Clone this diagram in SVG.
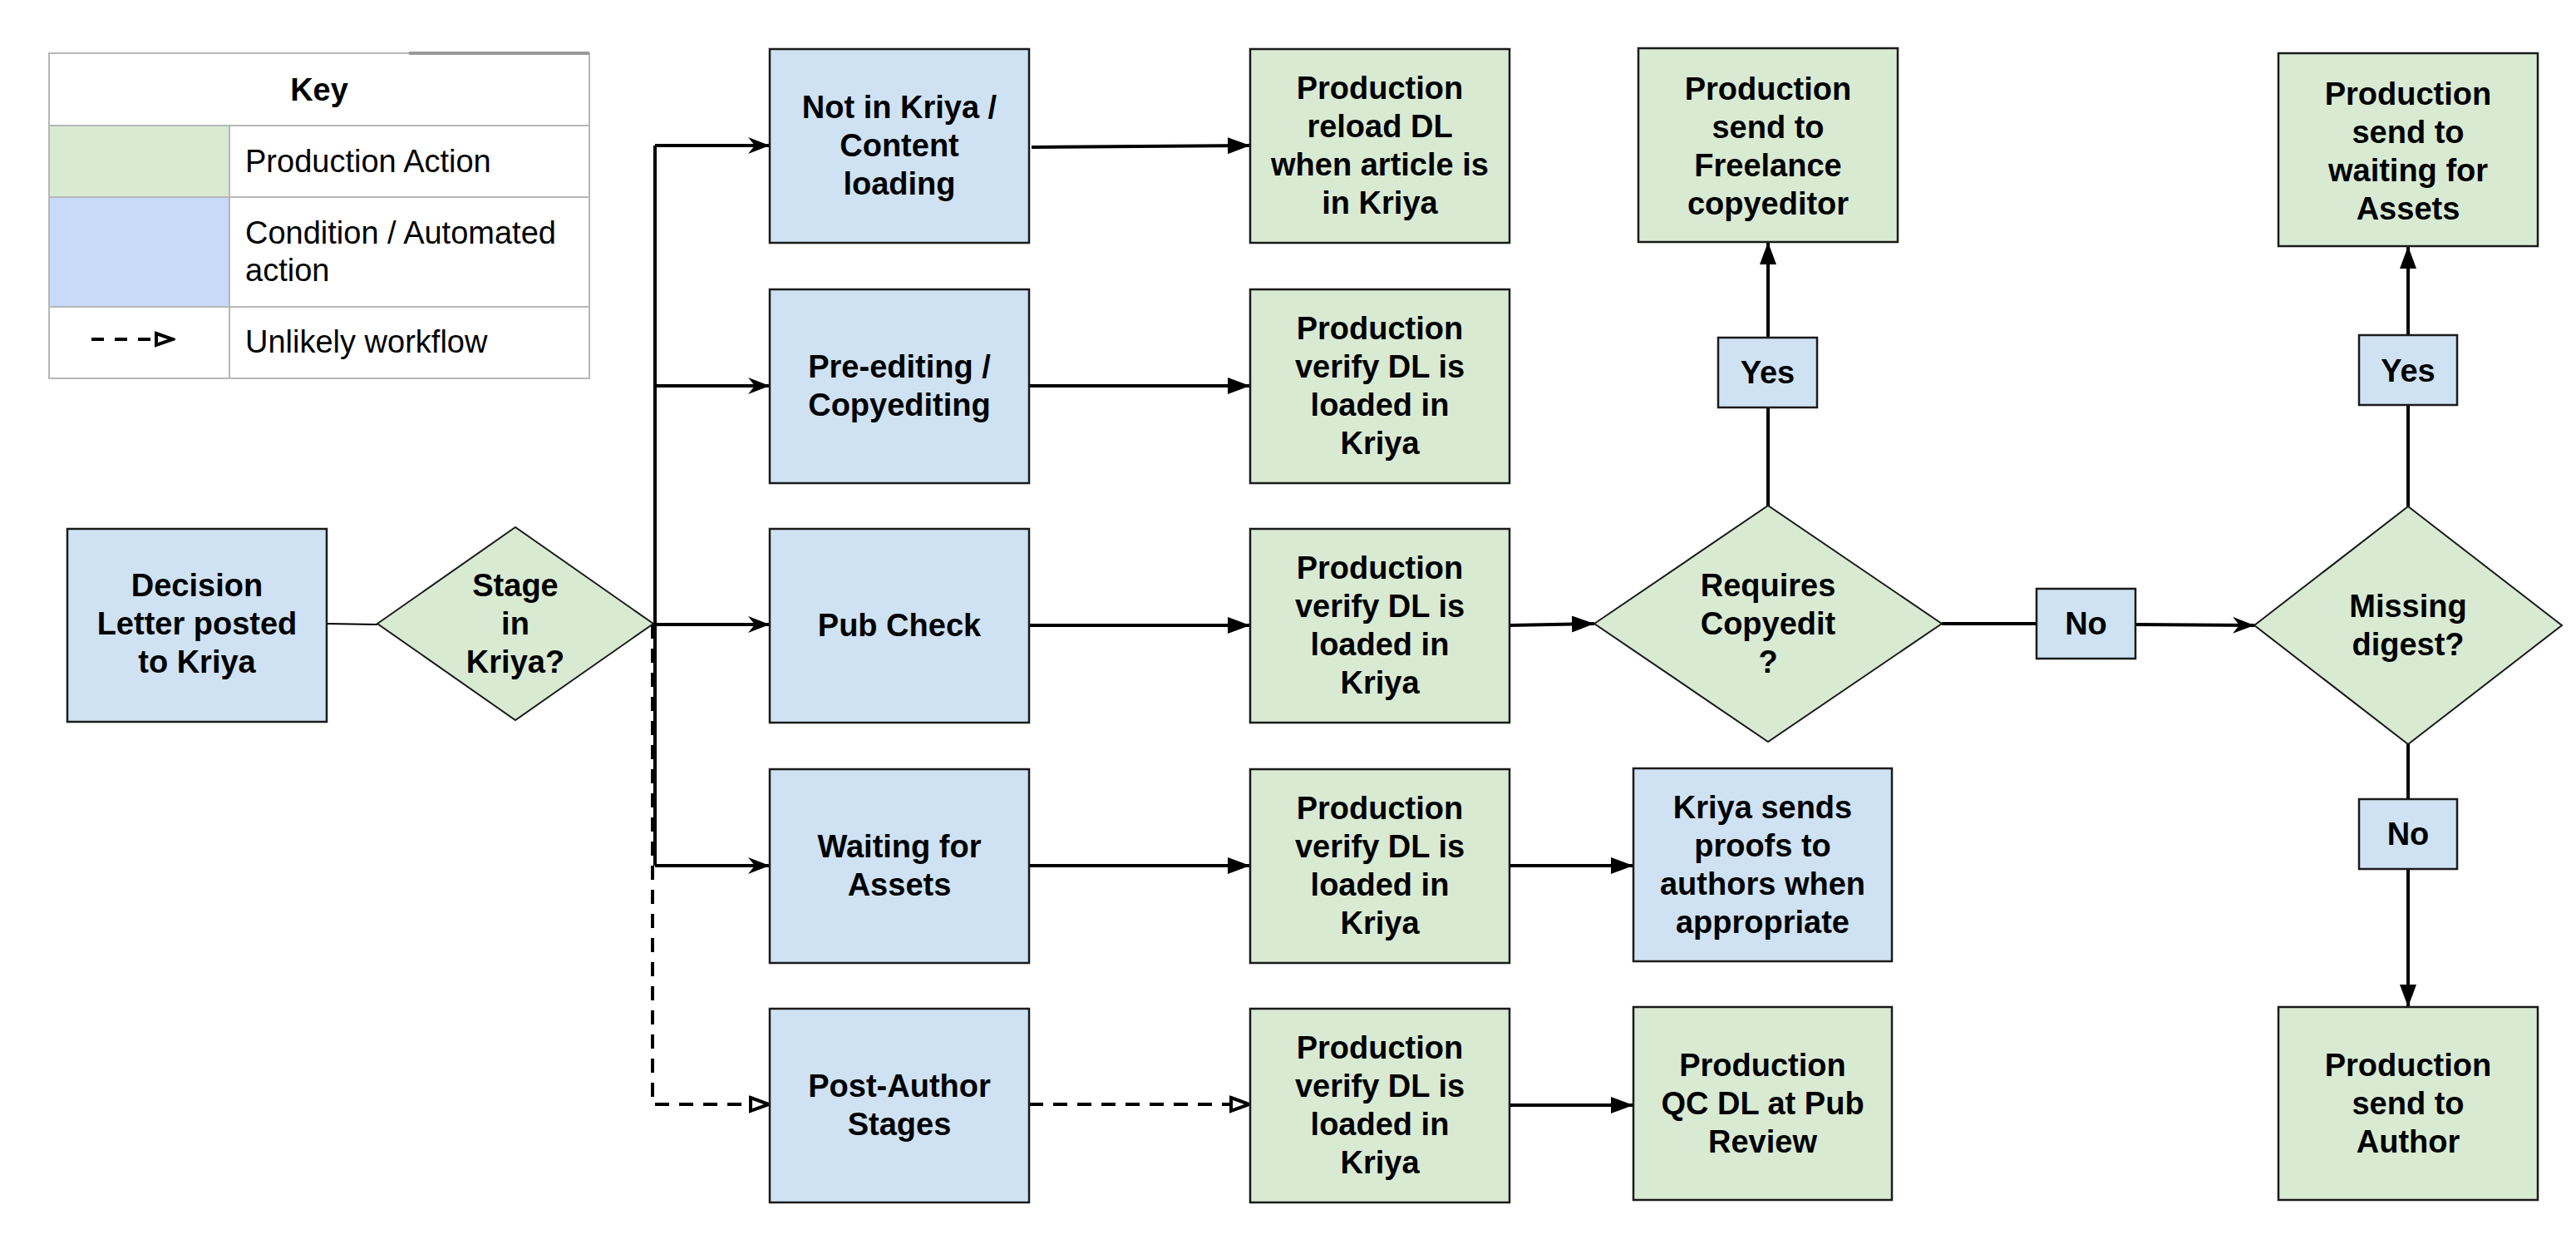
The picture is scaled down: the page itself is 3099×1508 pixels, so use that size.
<svg xmlns="http://www.w3.org/2000/svg" width="3099" height="1508" viewBox="0 0 3099 1508">
<style>
text{font-family:"Liberation Sans",Arial,sans-serif;font-size:38px;fill:#000}
.b text,.b{font-weight:bold;text-anchor:middle}
.blue{fill:#cfe2f3;stroke:#1a1a1a;stroke-width:2.5}
.green{fill:#d9ead3;stroke:#1a1a1a;stroke-width:2.5}
.dia{fill:#d9ead3;stroke:#1a1a1a;stroke-width:2}
.c{fill:none;stroke:#000;stroke-width:4}
.thin{fill:none;stroke:#000;stroke-width:2}
.dash{stroke-dasharray:17 12}
.kl{fill:none;stroke:#b7b7b7;stroke-width:2}
</style>
<defs>
<marker id="fill" markerUnits="userSpaceOnUse" markerWidth="27" markerHeight="20" viewBox="0 0 27 20" refX="27" refY="10" orient="auto"><path d="M0,0 L27,10 L0,20 z" fill="#000"/></marker>
<marker id="stealth" markerUnits="userSpaceOnUse" markerWidth="26" markerHeight="20" viewBox="0 0 26 20" refX="26" refY="10" orient="auto"><path d="M0,0 L26,10 L0,20 L8,10 z" fill="#000"/></marker>
<marker id="open" markerUnits="userSpaceOnUse" markerWidth="28" markerHeight="22" viewBox="0 0 28 22" refX="26" refY="11" orient="auto"><path d="M3,3 L25,11 L3,19 z" fill="#fff" stroke="#000" stroke-width="4"/></marker>
<marker id="opens" markerUnits="userSpaceOnUse" markerWidth="26" markerHeight="20" viewBox="0 0 26 20" refX="24" refY="10" orient="auto"><path d="M3,3 L23,10 L3,17 z" fill="#fff" stroke="#000" stroke-width="4"/></marker>
</defs>

<g id="key">
<rect x="59" y="151" width="217" height="86" fill="#d9ead3"/>
<rect x="59" y="237" width="217" height="132" fill="#c9daf8"/>
<rect x="59" y="64" width="650" height="391" class="kl"/>
<line x1="59" y1="151" x2="709" y2="151" class="kl"/>
<line x1="59" y1="237" x2="709" y2="237" class="kl"/>
<line x1="59" y1="369" x2="709" y2="369" class="kl"/>
<line x1="276" y1="151" x2="276" y2="455" class="kl"/>
<line x1="492" y1="64" x2="709" y2="64" stroke="#999" stroke-width="4"/>
<text x="384" y="121" class="b">Key</text>
<text x="295" y="207">Production Action</text>
<text x="295" y="293">Condition / Automated</text>
<text x="295" y="338">action</text>
<text x="295" y="424">Unlikely workflow</text>
<path d="M110,408 H209" class="c" stroke-dasharray="15 13" marker-end="url(#opens)"/>
</g>

<g id="connectors">
<path d="M393,750 L454,751" class="thin"/>
<path d="M788,175 V1041" class="c"/>
<path d="M785,751 V1328 H926" class="c dash" marker-end="url(#open)"/>
<path d="M788,175 H926" class="c" marker-end="url(#stealth)"/>
<path d="M788,464 H926" class="c" marker-end="url(#stealth)"/>
<path d="M788,751 H926" class="c" marker-end="url(#stealth)"/>
<path d="M788,1041 H926" class="c" marker-end="url(#stealth)"/>
<path d="M1241,177 L1504,175" class="c" marker-end="url(#fill)"/>
<path d="M1238,464 H1504" class="c" marker-end="url(#fill)"/>
<path d="M1238,752 H1504" class="c" marker-end="url(#fill)"/>
<path d="M1238,1041 H1504" class="c" marker-end="url(#fill)"/>
<path d="M1238,1328 H1504" class="c dash" marker-end="url(#open)"/>
<path d="M1816,752 L1918,750" class="c" marker-end="url(#fill)"/>
<path d="M1816,1041 H1965" class="c" marker-end="url(#fill)"/>
<path d="M1816,1329 H1965" class="c" marker-end="url(#fill)"/>
<path d="M2127,608 V490" class="c"/>
<path d="M2127,406 V291" class="c" marker-end="url(#fill)"/>
<path d="M2336,750 H2450" class="c"/>
<path d="M2569,751 L2712,752" class="c" marker-end="url(#stealth)"/>
<path d="M2897,609 V487" class="c"/>
<path d="M2897,403 V296" class="c" marker-end="url(#fill)"/>
<path d="M2897,895 V961" class="c"/>
<path d="M2897,1045 V1211" class="c" marker-end="url(#fill)"/>
</g>

<g id="decision" class="b">
<rect x="81" y="636" width="312" height="232" class="blue"/>
<text x="237" y="717">Decision</text><text x="237" y="763">Letter posted</text><text x="237" y="809">to Kriya</text>
</g>
<g id="stage" class="b">
<polygon points="454,750 620,634 786,750 620,866" class="dia"/>
<text x="620" y="717">Stage</text><text x="620" y="763">in</text><text x="620" y="809">Kriya?</text>
</g>

<g id="notinkriya" class="b">
<rect x="926" y="59" width="312" height="233" class="blue"/>
<text x="1082" y="142">Not in Kriya /</text><text x="1082" y="188">Content</text><text x="1082" y="234">loading</text>
</g>
<g id="preediting" class="b">
<rect x="926" y="348" width="312" height="233" class="blue"/>
<text x="1082" y="454">Pre-editing /</text><text x="1082" y="500">Copyediting</text>
</g>
<g id="pubcheck" class="b">
<rect x="926" y="636" width="312" height="233" class="blue"/>
<text x="1082" y="765">Pub Check</text>
</g>
<g id="waiting" class="b">
<rect x="926" y="925" width="312" height="233" class="blue"/>
<text x="1082" y="1031">Waiting for</text><text x="1082" y="1077">Assets</text>
</g>
<g id="postauthor" class="b">
<rect x="926" y="1213" width="312" height="233" class="blue"/>
<text x="1082" y="1319">Post-Author</text><text x="1082" y="1365">Stages</text>
</g>

<g id="reload" class="b">
<rect x="1504" y="59" width="312" height="233" class="green"/>
<text x="1660" y="119">Production</text><text x="1660" y="165">reload DL</text><text x="1660" y="211">when article is</text><text x="1660" y="257">in Kriya</text>
</g>
<g id="verify1" class="b">
<rect x="1504" y="348" width="312" height="233" class="green"/>
<text x="1660" y="408">Production</text><text x="1660" y="454">verify DL is</text><text x="1660" y="500">loaded in</text><text x="1660" y="546">Kriya</text>
</g>
<g id="verify2" class="b">
<rect x="1504" y="636" width="312" height="233" class="green"/>
<text x="1660" y="696">Production</text><text x="1660" y="742">verify DL is</text><text x="1660" y="788">loaded in</text><text x="1660" y="834">Kriya</text>
</g>
<g id="verify3" class="b">
<rect x="1504" y="925" width="312" height="233" class="green"/>
<text x="1660" y="985">Production</text><text x="1660" y="1031">verify DL is</text><text x="1660" y="1077">loaded in</text><text x="1660" y="1123">Kriya</text>
</g>
<g id="verify4" class="b">
<rect x="1504" y="1213" width="312" height="233" class="green"/>
<text x="1660" y="1273">Production</text><text x="1660" y="1319">verify DL is</text><text x="1660" y="1365">loaded in</text><text x="1660" y="1411">Kriya</text>
</g>

<g id="freelance" class="b">
<rect x="1971" y="58" width="312" height="233" class="green"/>
<text x="2127" y="120">Production</text><text x="2127" y="166">send to</text><text x="2127" y="212">Freelance</text><text x="2127" y="258">copyeditor</text>
</g>
<g id="yes1" class="b">
<rect x="2067" y="406" width="119" height="84" class="blue"/>
<text x="2126.5" y="461">Yes</text>
</g>
<g id="requires" class="b">
<polygon points="1918,750 2127,608 2336,750 2127,892" class="dia"/>
<text x="2127" y="717">Requires</text><text x="2127" y="763">Copyedit</text><text x="2127" y="809">?</text>
</g>
<g id="no1" class="b">
<rect x="2450" y="708" width="119" height="84" class="blue"/>
<text x="2509.5" y="763">No</text>
</g>
<g id="kriyasends" class="b">
<rect x="1965" y="924" width="311" height="232" class="blue"/>
<text x="2120.5" y="984">Kriya sends</text><text x="2120.5" y="1030">proofs to</text><text x="2120.5" y="1076">authors when</text><text x="2120.5" y="1122">appropriate</text>
</g>
<g id="qc" class="b">
<rect x="1965" y="1211" width="311" height="232" class="green"/>
<text x="2120.5" y="1294">Production</text><text x="2120.5" y="1340">QC DL at Pub</text><text x="2120.5" y="1386">Review</text>
</g>

<g id="waitassets" class="b">
<rect x="2741" y="64" width="312" height="232" class="green"/>
<text x="2897" y="126">Production</text><text x="2897" y="172">send to</text><text x="2897" y="218">waiting for</text><text x="2897" y="264">Assets</text>
</g>
<g id="yes2" class="b">
<rect x="2838" y="403" width="118" height="84" class="blue"/>
<text x="2897" y="459">Yes</text>
</g>
<g id="missing" class="b">
<polygon points="2712,752 2897,609 3082,752 2897,895" class="dia"/>
<text x="2897" y="742">Missing</text><text x="2897" y="788">digest?</text>
</g>
<g id="no2" class="b">
<rect x="2838" y="961" width="118" height="84" class="blue"/>
<text x="2897" y="1016">No</text>
</g>
<g id="author" class="b">
<rect x="2741" y="1211" width="312" height="232" class="green"/>
<text x="2897" y="1294">Production</text><text x="2897" y="1340">send to</text><text x="2897" y="1386">Author</text>
</g>
</svg>
